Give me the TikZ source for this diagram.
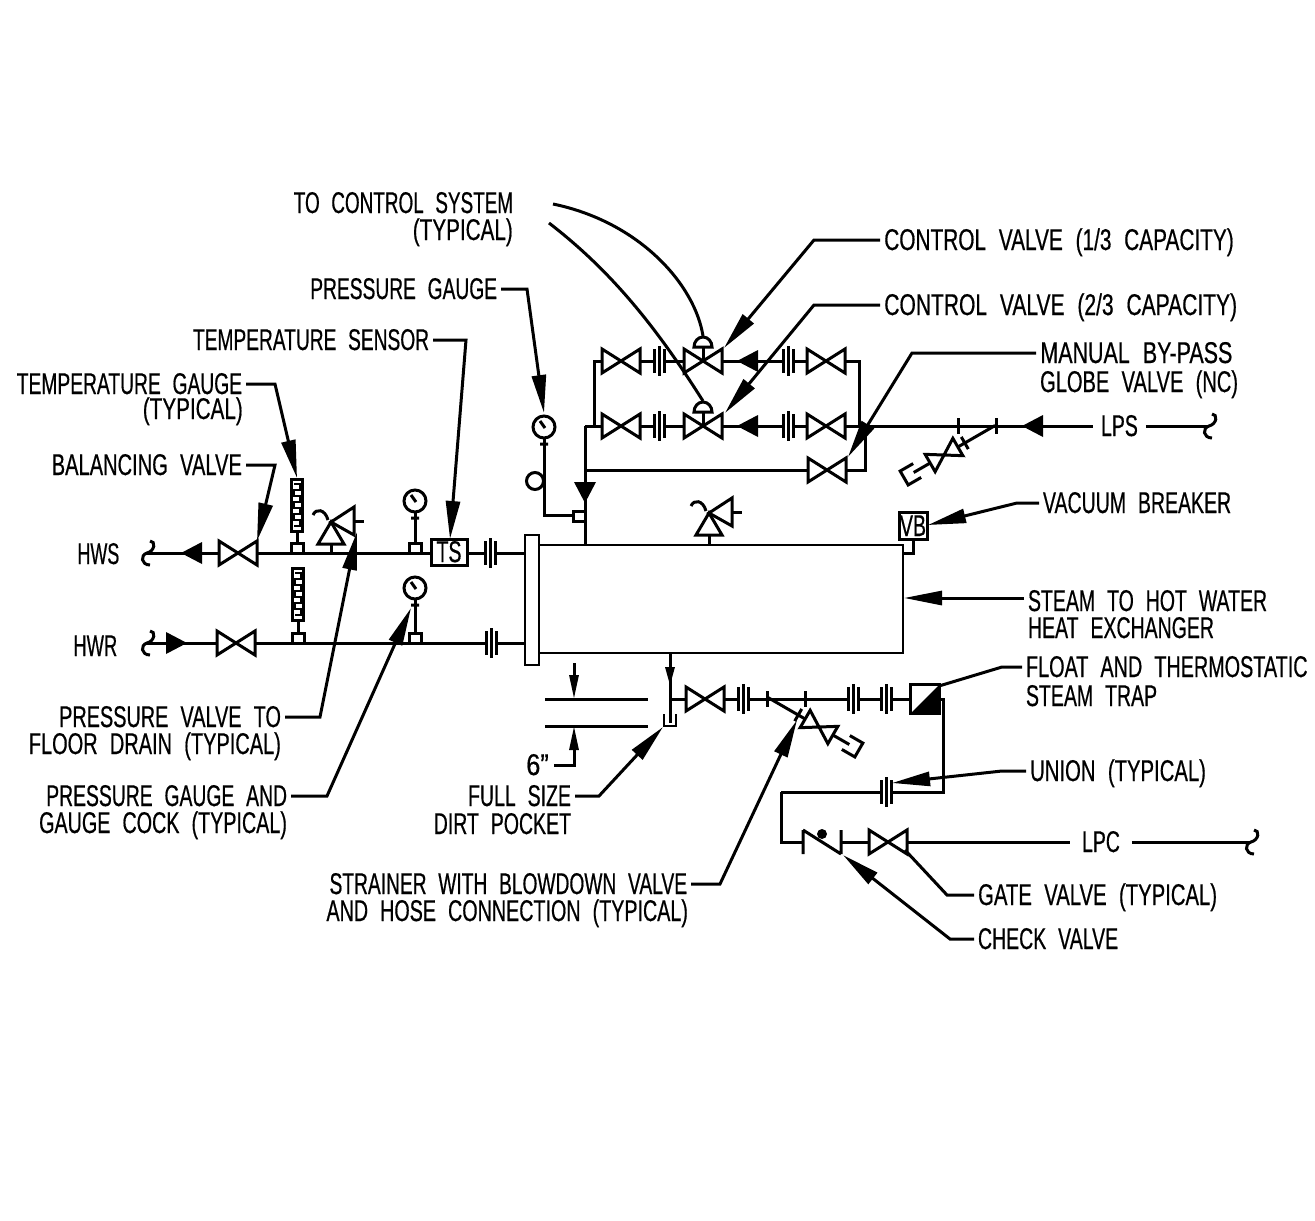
\documentclass[tikz,border=0pt]{standalone}
\usepackage{fontspec}
\setmainfont[FakeStretch=.65,WordSpace=2.2,FakeBold=.5]{Liberation Sans}
\usetikzlibrary{arrows.meta}
\begin{document}
\begin{tikzpicture}
	[x=1pt,y=-1pt,
	every node/.style={inner sep=0pt,outer sep=4pt,text height=20pt,text depth=0pt,font=\fontsize{30}{30}\selectfont},
	sx/.style={transform shape,xscale=#1},
	pipe/.style={line width=3pt},
	lean/.style={line width=2pt},
	boxed/.style={draw,line width=3pt,outer sep=0pt,fill=white},
	leader/.style={line width=3pt,-{Triangle[length=38pt,width=14pt]}},
	dim/.style={line width=3pt,-{Triangle[length=24pt,width=9pt]}},
	valve/.pic={\draw[pipe,fill=white] (-19,-12) -- (19,12) -- (19,-12) -- (-19,12) -- cycle;},
	union/.pic={
		\fill[white] (-5,-8) rectangle (5,8);
		\draw[pipe] (-5,-12) -- (-5,12) (0,-15) -- (0,15) (5,-12) -- (5,12);
	},
	flow/.pic={\fill (-11,0) -- (10,-11) -- (10,11) -- cycle;},
	slim/.pic={\fill (-5,-18) -- (5,-18) -- (0,0) -- cycle;},
	curl/.pic={\draw[pipe] (3,-12) .. controls (9,-12) and (8,-2) .. (0,0) .. controls (-7,2) and (-6,12) .. (3,12);},
	tap/.pic={\draw[pipe,fill=white] (-6,-10) rectangle (6,0);},
	gauge/.pic={
		\draw[pipe,fill=white] (0,0) circle (11);
		\draw[pipe] (-4,-6) -- (1,1) (-4,17) -- (4,17);
	},
	thermo/.pic={
		\draw[pipe,fill=white] (-5.5,0) rectangle (5.5,52);
		\draw[lean] (-3,5) -- (3,5) -- (3,11) -- (-3,11) -- (-3,17) -- (3,17) -- (3,23) -- (-3,23) -- (-3,29) -- (3,29) -- (3,35) -- (-3,35) -- (-3,41) -- (3,41) -- (3,47) -- (-3,47);
	},
	relief/.pic={
		\draw[pipe] (0,22) -- (0,32) (23,-1) -- (33,-1);
		\draw[pipe] (-3,-2) .. controls (-6,-13) and (-15,-14) .. (-18,-7);
		\draw[pipe,fill=white] (0,0) -- (-13,22) -- (13,22) -- cycle;
		\draw[pipe,fill=white] (0,0) -- (23,-15) -- (23,13) -- cycle;
	},
	actuator/.pic={
		\draw[pipe] (0,0) -- (0,-14);
		\draw[pipe,fill=white] (-9,-14) arc (180:360:9 and 10) -- cycle;
	},
	strainer/.pic={
		\draw[pipe] (-35,0) -- (59,0) (24,-7) -- (24,7) ;
		\draw[pipe,fill=white] (-16,-10) -- (16,10) -- (16,-10) -- (-16,10) -- cycle;
		\draw[pipe] (-31,-8) -- (-46,-8) -- (-46,8) -- (-31,8);
	},
	checkvalve/.pic={
		\fill[white] (-19,-12) rectangle (19,12);
		\draw[pipe] (-19,-12) -- (-19,12) (19,-12) -- (19,12) (-19,-12) -- (19,12);
		\fill (0,-8) circle (5);
	},
	trap/.pic={
		\draw[pipe,fill=white] (-14.5,-14.5) rectangle (14.5,14.5);
		\fill (14.5,-14.5) -- (14.5,14.5) -- (-14.5,14.5) -- cycle;
	}]
	\useasboundingbox (0,0) rectangle (1315,1221);

	\node[draw,lean,outer sep=0pt,minimum width=364pt,minimum height=108pt,text height=0pt] (shell) at (721,599) {};
	\node[draw,lean,outer sep=0pt,fill=white,minimum width=14pt,minimum height=130pt,text height=0pt] (flange) at (532,600) {};

	\coordinate (hwsend) at (147,553);
	\coordinate (hwrend) at (147,643);
	\coordinate (loopnw) at (594,361);
	\coordinate (loopne) at (859,361);
	\coordinate (loopsw) at (594,426);
	\coordinate (loopse) at (859,426);
	\coordinate (riser) at (585,426);
	\coordinate (bypw) at (585,470);
	\coordinate (bype) at (865,426);
	\coordinate (gaugetop) at (544,427);
	\coordinate (gaugetap) at (573,515);
	\coordinate (drain) at (670,653);
	\coordinate (drainfoot) at (670,723);
	\coordinate (drainbr) at (670,699);
	\coordinate (trapin) at (925,699);
	\coordinate (trapout) at (939,699);
	\coordinate (retse) at (943,792);
	\coordinate (retsw) at (781,792);
	\coordinate (lpscurl) at (1209,426);
	\coordinate (lpccurl) at (1251,842);
	\coordinate (vbfoot) at (903,553);

	\draw[pipe] (hwsend) -- (hwsend -| flange.west);
	\draw[pipe] (hwrend) -- (hwrend -| flange.west);
	\draw[pipe] (loopsw) |- (loopne) -- (loopse);
	\draw[pipe] (riser) -- (riser |- shell.north);
	\draw[pipe] (bypw) -| (bype);
	\draw[pipe] (gaugetop) |- (gaugetap);
	\draw[pipe] (drain) -- (drainfoot);
	\draw[pipe] (drainbr) -- (trapin);
	\draw[pipe] (trapout) -| (retse) -- (retsw);

	\node[anchor=west,outer sep=8pt] (lps) at (1093,426) {LPS};
	\node[anchor=west,outer sep=12pt] (lpc) at (1070,842) {LPC};
	\draw[pipe] (riser) -- (lps.west);
	\draw[pipe] (lps.east) -- (lpscurl);
	\draw[pipe] (retsw) |- (lpc.west);
	\draw[pipe] (lpc.east) -- (lpccurl);

	\pic at (lpscurl) {curl};
	\pic at (lpccurl) {curl};
	\pic at (hwsend) {curl};
	\pic at (hwrend) {curl};

	\pic at (192,553) {flow};
	\pic[rotate=180] at (176,643) {flow};
	\pic at (748,361) {flow};
	\pic at (748,426) {flow};
	\pic at (1033,426) {flow};
	\pic[rotate=90] at (585,492) {flow};

	\pic at (238,553) {valve};
	\pic at (236,643) {valve};
	\pic at (705,699) {valve};
	\pic at (888,842) {valve};
	\pic at (827,470) {valve};
	\foreach \row in {361,426}{
		\pic at (621,\row) {valve};
		\pic at (703,\row) {actuator};
		\pic at (703,\row) {valve};
		\pic at (826,\row) {valve};
		\pic at (659,\row) {union};
		\pic at (788,\row) {union};
	}
	\pic at (490,553) {union};
	\pic at (491,643) {union};
	\pic at (743,699) {union};
	\pic at (853,699) {union};
	\pic at (886,699) {union};
	\pic at (886,792) {union};

	\foreach \pos in {958,996}{
		\draw[pipe] (\pos,418) -- (\pos,434);
	}
	\foreach \pos in {767,805}{
		\draw[pipe] (\pos,691) -- (\pos,707);
	}
	\pic[rotate=30] at (944,455) {strainer};
	\pic[rotate=150] at (819,727) {strainer};

	\pic at (297,553) {tap};
	\pic at (298,643) {tap};
	\pic at (415,553) {tap};
	\pic at (415,643) {tap};
	\pic at (579,521) {tap};
	\draw[pipe] (297,479) -- (297,543);
	\draw[pipe] (298,568) -- (298,633);
	\draw[pipe] (415,501) -- (415,543);
	\draw[pipe] (415,588) -- (415,633);
	\pic at (297,479) {thermo};
	\pic at (298,568) {thermo};
	\pic at (415,501) {gauge};
	\pic at (415,588) {gauge};
	\pic at (gaugetop) {gauge};
	\draw[pipe] (535,481) circle (8.5);

	\pic at (331,522) {relief};
	\pic at (709,513) {relief};

	\node[boxed,minimum width=36pt,minimum height=26pt] (ts) at (449,552) {TS};
	\node[boxed,minimum width=28pt,minimum height=27pt,inner sep=0pt] (vb) at (913,526) {VB};
	\draw[pipe] (vb.south) |- (vbfoot);

	\pic at (trapin) {trap};
	\pic at (670,685) {slim};
	\draw[lean] (664,714) -- (664,726) -- (676,726) -- (676,714);
	\pic at (822,842) {checkvalve};

	\coordinate (dimhigh) at (574,699);
	\coordinate (dimlow) at (574,726);
	\coordinate (dimtop) at (574,663);
	\draw[pipe] (545,699) -- (648,699) (545,726) -- (648,726);
	\draw[dim] (dimtop) -- (dimhigh);

	\node[anchor=east,sx=.97] (ctrl) at (517,203) {TO CONTROL SYSTEM};
	\node[anchor=east,sx=1.06] (ctrltwo) at (517,230) {(TYPICAL)};
	\node[anchor=east,sx=.985] (pglbl) at (501,289) {PRESSURE GAUGE};
	\node[anchor=east,sx=.983] (tslbl) at (433,340) {TEMPERATURE SENSOR};
	\node[anchor=east,sx=.987] (tglbl) at (246,384) {TEMPERATURE GAUGE};
	\node[anchor=east,sx=1.06] (tgtwo) at (247,409) {(TYPICAL)};
	\node[anchor=east,sx=1.03] (bvlbl) at (246,465) {BALANCING VALVE};
	\node[anchor=east,sx=.92] (hws) at (123,554) {HWS};
	\node[anchor=east,sx=.94] (hwr) at (121,646) {HWR};
	\node[anchor=east,sx=1.018] (prlbl) at (285,717) {PRESSURE VALVE TO};
	\node[anchor=east,sx=1.025] (prtwo) at (285,744) {FLOOR DRAIN (TYPICAL)};
	\node[anchor=east,sx=.992] (pcklbl) at (291,796) {PRESSURE GAUGE AND};
	\node[anchor=east,sx=1.012] (pcktwo) at (291,823) {GAUGE COCK (TYPICAL)};
	\node[anchor=east] (pocket) at (575,796) {FULL SIZE};
	\node[anchor=east] (pockettwo) at (575,824) {DIRT POCKET};
	\node[anchor=east,sx=1.3] (six) at (554,765) {6”};
	\node[anchor=east,sx=.984] (strlbl) at (691,884) {STRAINER WITH BLOWDOWN VALVE};
	\node[anchor=east,sx=1.011] (strtwo) at (692,911) {AND HOSE CONNECTION (TYPICAL)};
	\node[anchor=west,sx=1.068] (cvone) at (880,240) {CONTROL VALVE (1/3 CAPACITY)};
	\node[anchor=west,sx=1.078] (cvtwo) at (880,305) {CONTROL VALVE (2/3 CAPACITY)};
	\node[anchor=west,sx=1.1] (mbp) at (1036,353) {MANUAL BY-PASS};
	\node[anchor=west,sx=1.03] (mbptwo) at (1036,382) {GLOBE VALVE (NC)};
	\node[anchor=west] (vblbl) at (1039,503) {VACUUM BREAKER};
	\node[anchor=west] (hx) at (1024,601) {STEAM TO HOT WATER};
	\node[anchor=west] (hxtwo) at (1024,628) {HEAT EXCHANGER};
	\node[anchor=west,sx=1.015] (trp) at (1022,667) {FLOAT AND THERMOSTATIC};
	\node[anchor=west] (trptwo) at (1022,696) {STEAM TRAP};
	\node[anchor=west,sx=1.04] (un) at (1026,771) {UNION (TYPICAL)};
	\node[anchor=west,sx=1.04] (gate) at (974,895) {GATE VALVE (TYPICAL)};
	\node[anchor=west] (chk) at (974,939) {CHECK VALVE};

	\draw[dim] (six.east) -| (dimlow);

	\coordinate (ctrla) at (553,204);
	\coordinate (ctrlb) at (549,223);
	\coordinate (domea) at (703,336);
	\coordinate (domeb) at (703,401);
	\draw[pipe] (ctrla) .. controls (640,222) and (695,285) .. (domea);
	\draw[pipe] (ctrlb) .. controls (610,270) and (655,325) .. (domeb);

	\coordinate (cvonetip) at (724,348);
	\coordinate (cvtwotip) at (725,413);
	\coordinate (mbptip) at (848,457);
	\coordinate (pgtip) at (544,413);
	\coordinate (tstip) at (450,539);
	\coordinate (tgtip) at (297,478);
	\coordinate (bvtip) at (257,541);
	\coordinate (prtip) at (357,532);
	\coordinate (pcktip) at (411,608);
	\coordinate (pockettip) at (663,727);
	\coordinate (strtip) at (797,720);
	\coordinate (vbtip) at (928,525);
	\coordinate (hxtip) at (904,598);
	\coordinate (trptip) at (939,686);
	\coordinate (untip) at (892,783);
	\coordinate (gatetip) at (905,850);
	\coordinate (chktip) at (843,855);

	\draw[leader] (cvone.west) -- ++(-66,0) -- (cvonetip);
	\draw[leader] (cvtwo.west) -- ++(-66,0) -- (cvtwotip);
	\draw[leader] (mbp.west) -- ++(-124,0) -- (mbptip);
	\draw[leader] (pglbl.east) -- ++(26,0) -- (pgtip);
	\draw[leader] (tslbl.east) -- ++(33,0) -- (tstip);
	\draw[leader] (tglbl.east) -- ++(29,0) -- (tgtip);
	\draw[leader] (bvlbl.east) -- ++(29,0) -- (bvtip);
	\draw[leader] (prlbl.east) -- ++(35,0) -- (prtip);
	\draw[leader] (pcklbl.east) -- ++(36,0) -- (pcktip);
	\draw[leader] (pocket.east) -- ++(24,0) -- (pockettip);
	\draw[leader] (strlbl.east) -- ++(29,0) -- (strtip);
	\draw[leader] (vblbl.west) -- ++(-22,0) -- (vbtip);
	\draw[leader] ([yshift=3pt]hx.west) -- (hxtip);
	\draw[pipe] (trp.west) -- ++(-20,0) -- (trptip);
	\draw[leader] (un.west) -- ++(-24,0) -- (untip);
	\draw[pipe] (gate.west) -- ++(-27,0) -- (gatetip);
	\draw[leader] (chk.west) -- ++(-24,0) -- (chktip);
\end{tikzpicture}
\end{document}
